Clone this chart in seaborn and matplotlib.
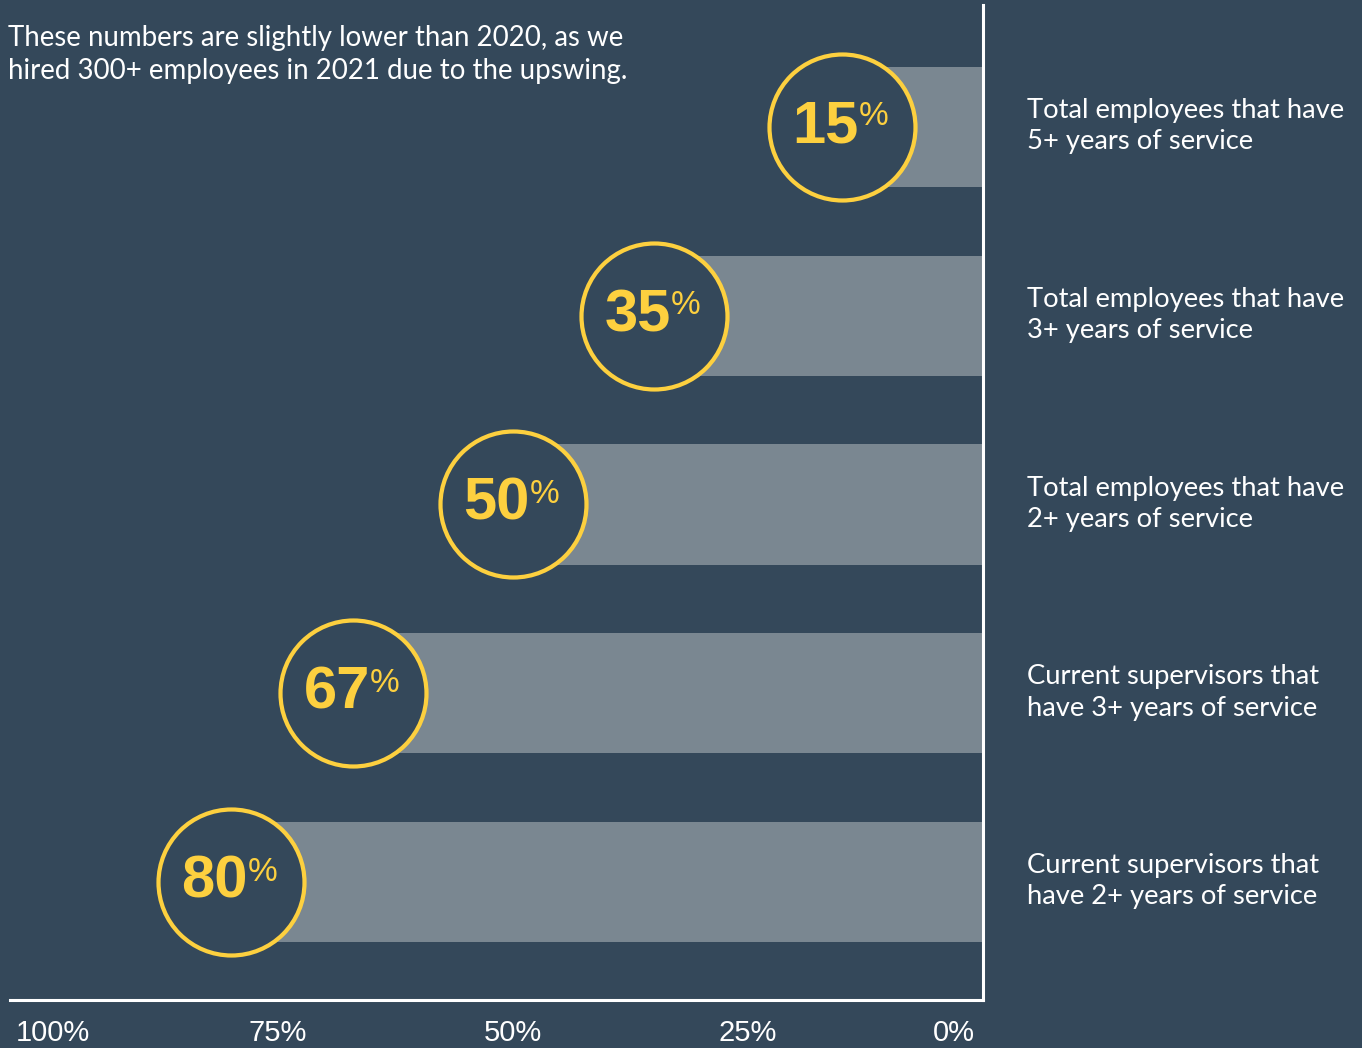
import matplotlib
matplotlib.use("Agg")
import matplotlib.pyplot as plt
import matplotlib.transforms as mtransforms
import seaborn as sns
import pandas as pd

# Share of staff by length of service
categories = [
    "Total employees that have\n5+ years of service",
    "Total employees that have\n3+ years of service",
    "Total employees that have\n2+ years of service",
    "Current supervisors that\nhave 3+ years of service",
    "Current supervisors that\nhave 2+ years of service",
]
values = [15, 35, 50, 67, 80]
tick_values = [100, 75, 50, 25, 0]
tick_labels = ["100%", "75%", "50%", "25%", "0%"]
note = "These numbers are slightly lower than 2020, as we\nhired 300+ employees in 2021 due to the upswing."

BG = "#34485a"
BAR = "#7a8791"
YELLOW = "#fdd03f"
WHITE = "#ffffff"

df = pd.DataFrame({"category": categories, "value": values})

sns.set_theme(style="white")
plt.rcParams["font.family"] = ["Lato", "DejaVu Sans"]

W, H = 1362, 1048
fig = plt.figure(figsize=(W / 100, H / 100), dpi=100, facecolor=BG)
ax = fig.add_axes([10 / W, 1 - 1000 / H, 973 / W, 995 / H])
ax.set_facecolor(BG)

sns.barplot(data=df, x="value", y="category", orient="h", color=BAR,
            saturation=1, width=0.636, linewidth=0, ax=ax, zorder=2)

# ring markers at the end of each bar
ring_px = 146
s = (ring_px * 72 / 100) ** 2
sns.scatterplot(data=df, x="value", y="category", s=s, color=BG,
                edgecolor=YELLOW, linewidth=4.2 * 72 / 100, ax=ax,
                zorder=3, clip_on=False, legend=False)

px = 72 / 100
for i, v in enumerate(values):
    ax.annotate(f"{v}", xy=(v, i), xytext=(17 * px, 0), textcoords="offset points",
                ha="right", va="center", fontsize=43, fontweight="bold",
                family=["Liberation Sans", "DejaVu Sans"], color=YELLOW, zorder=4)
    ax.annotate("%", xy=(v, i), xytext=(17 * px, 10 * px), textcoords="offset points",
                ha="left", va="center", fontsize=24,
                family=["Liberation Sans", "DejaVu Sans"], color=YELLOW, zorder=4)

# category descriptions to the right of the axis
trans = mtransforms.blended_transform_factory(ax.transAxes, ax.transData)
for i, c in enumerate(categories):
    ax.text((1027 - 10) / 973, i - 0.004, c, transform=trans, ha="left", va="center",
            fontsize=19.7, color=WHITE, linespacing=1.32, clip_on=False)

ax.set_xlim(103.5, 0)
ax.set_ylim(4.625, -0.646)
ax.set_xticks(tick_values)
ax.set_xticklabels(tick_labels)
ax.set_yticks([])
ax.set_xlabel("")
ax.set_ylabel("")
ax.tick_params(axis="x", length=0, pad=14, labelsize=21, labelcolor=WHITE)
for lab in ax.get_xticklabels():
    lab.set_family(["Liberation Sans Narrow", "Liberation Sans", "DejaVu Sans"])
last = ax.get_xticklabels()[-1]
last.set_horizontalalignment("right")
last.set_transform(last.get_transform() + mtransforms.ScaledTranslation(-8 / 100, 0, fig.dpi_scale_trans))
first = ax.get_xticklabels()[0]
first.set_transform(first.get_transform() + mtransforms.ScaledTranslation(10 / 100, 0, fig.dpi_scale_trans))

for side in ["top", "left"]:
    ax.spines[side].set_visible(False)
for side in ["right", "bottom"]:
    ax.spines[side].set_visible(True)
    ax.spines[side].set_color(WHITE)
    ax.spines[side].set_linewidth(2.2)

fig.text(8 / W, 1 - 25 / H, note, ha="left", va="top", fontsize=19.9,
         color=WHITE, linespacing=1.32)

fig.savefig("out.png", dpi=100, facecolor=BG)
